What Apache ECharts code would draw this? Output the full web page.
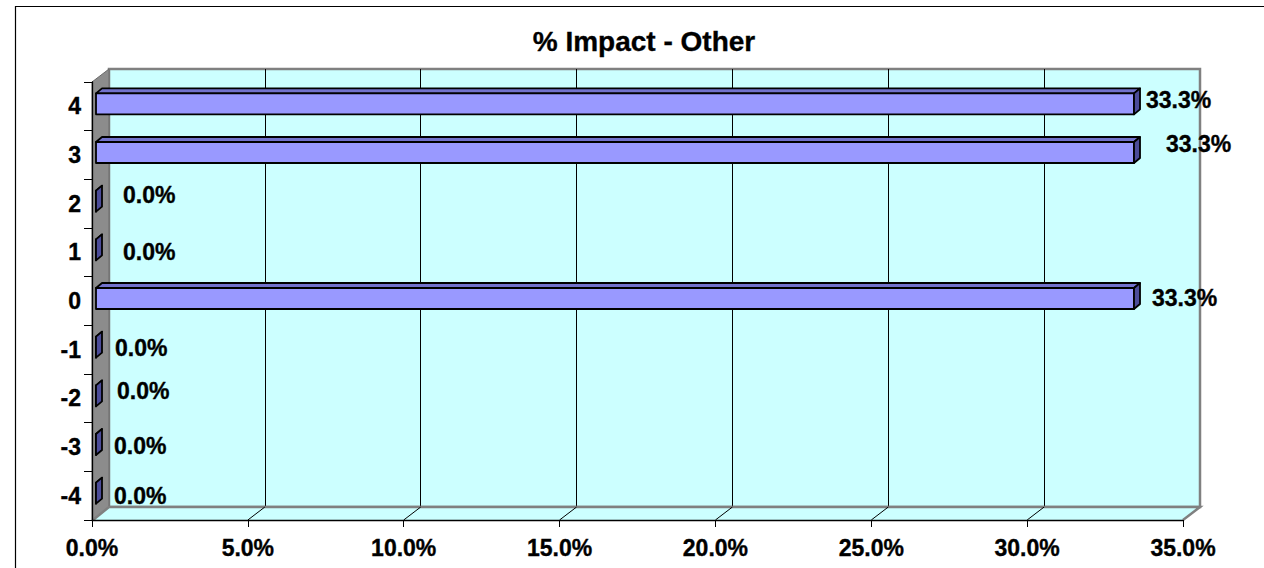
<!DOCTYPE html>
<html><head><meta charset="utf-8">
<script src="https://cdn.jsdelivr.net/npm/echarts@6/dist/echarts.min.js"></script>
<style>html,body{margin:0;padding:0;background:#fff}#c{width:1264px;height:568px}</style>
</head><body><div id="c"></div>
<script>
// ---- data ----
const titleText = '% Impact - Other';
const categories = ['-4', '-3', '-2', '-1', '0', '1', '2', '3', '4'];
const values = [0.0, 0.0, 0.0, 0.0, 33.3, 0.0, 0.0, 33.3, 33.3];
const xTicks = [0, 5, 10, 15, 20, 25, 30, 35];

// ---- styling / placement (not data) ----
const FONT = '"Liberation Sans", Arial, sans-serif';
const LBL = 23;
const labelOffsets = [[12, 0], [12, -1], [15, -7], [13, -2], [12, -3], [21, 0], [21, -9], [26, -11], [6, -6]];
const FRONT = '#9999FF', TOPC = '#7272CC', SIDE = '#4C4C99';
const front = { left: 92, top: 82, right: 81, bottom: 48 };
const back = { left: 109, top: 69, right: 64, bottom: 61 };
const W = 1264, H = 568;
const thick = { textBorderColor: '#000', textBorderWidth: 0.35 };

const chart = echarts.init(document.getElementById('c'), null, { renderer: 'svg' });

function renderItem(params, api) {
  const v = api.value(0), i = api.value(1);
  const p0 = api.coord([0, i]), p1 = api.coord([v, i]);
  const c = p0[1];
  const sx = 4, dd = 6, dy = 5;
  const x0 = p0[0] + sx, x1 = p1[0] + sx;
  const t = c - 13, b = c + 8;
  const off = labelOffsets[i];
  const st = (f) => ({ fill: f, stroke: '#000', lineWidth: 1.8, lineJoin: 'round' });
  return {
    type: 'group', children: [
      { type: 'polygon', shape: { points: [[x0, t], [x1, t], [x1 + dd, t - dy], [x0 + dd, t - dy]] }, style: st(TOPC) },
      { type: 'rect', shape: { x: x0, y: t, width: x1 - x0, height: b - t }, style: st(FRONT) },
      { type: 'polygon', shape: { points: [[x1, t], [x1 + dd, t - dy], [x1 + dd, b - dy], [x1, b]] }, style: st(SIDE) },
      { type: 'text', x: x1 + dd + off[0], y: c + off[1],
        style: { text: v.toFixed(1) + '%', fill: '#000', stroke: '#000', lineWidth: 0.35, fontSize: LBL, fontWeight: 'bold', fontFamily: FONT, align: 'left', verticalAlign: 'middle' } }
    ]
  };
}

const option = {
  animation: false,
  backgroundColor: '#fff',
  title: {
    text: titleText, left: 639, top: 22, textAlign: 'center',
    textStyle: Object.assign({ fontFamily: FONT, fontWeight: 'bold', fontSize: 28, color: '#000' }, thick)
  },
  grid: [
    Object.assign({ show: false, z: 5 }, front),
    Object.assign({ show: true, backgroundColor: '#CCFFFF', borderColor: '#808080', borderWidth: 2.5, z: 0 }, back)
  ],
  xAxis: [
    {
      type: 'value', gridIndex: 0, min: xTicks[0], max: xTicks[xTicks.length - 1], interval: xTicks[1] - xTicks[0], z: 5,
      axisLine: { show: true, lineStyle: { color: '#000', width: 1.3 } },
      axisTick: { show: true, length: 7, lineStyle: { color: '#000' } },
      splitLine: { show: false },
      axisLabel: Object.assign({ formatter: v => v.toFixed(1) + '%', fontFamily: FONT, fontWeight: 'bold', fontSize: LBL, color: '#000', margin: 16 }, thick)
    },
    {
      type: 'value', gridIndex: 1, min: xTicks[0], max: xTicks[xTicks.length - 1], interval: xTicks[1] - xTicks[0], z: 1,
      axisLine: { show: false }, axisTick: { show: false }, axisLabel: { show: false },
      splitLine: { show: true, showMinLine: false, showMaxLine: false, lineStyle: { color: '#000', width: 1 } }
    }
  ],
  yAxis: [
    {
      type: 'category', gridIndex: 0, data: categories, z: 5,
      axisLine: { show: true, lineStyle: { color: '#000', width: 1.3 } },
      axisTick: { show: true, length: 8, lineStyle: { color: '#000' } },
      axisLabel: Object.assign({ fontFamily: FONT, fontWeight: 'bold', fontSize: LBL, color: '#000', margin: 11 }, thick),
      splitLine: { show: false }
    },
    {
      type: 'category', gridIndex: 1, data: categories, show: false
    }
  ],
  series: [{
    type: 'custom', xAxisIndex: 0, yAxisIndex: 0, z: 10,
    renderItem: renderItem,
    data: values.map((v, i) => [v, i]),
    encode: { x: 0, y: 1 }
  }]
};
chart.setOption(option);

// walls, floor and floor grid lines derived from the axis scales
const fx0 = chart.convertToPixel({ xAxisIndex: 0 }, xTicks[0]);
const fx1 = chart.convertToPixel({ xAxisIndex: 0 }, xTicks[xTicks.length - 1]);
const bx0 = chart.convertToPixel({ xAxisIndex: 1 }, xTicks[0]);
const bx1 = chart.convertToPixel({ xAxisIndex: 1 }, xTicks[xTicks.length - 1]);
const fTop = front.top, fBot = H - front.bottom, bTop = back.top, bBot = H - back.bottom;
const els = [
  { type: 'rect', z: 0, shape: { x: 15.5, y: 6.5, width: 1400, height: 800 }, style: { fill: 'none', stroke: '#000', lineWidth: 1.2 } },
  { type: 'polygon', z: 2, shape: { points: [[fx0, fTop], [bx0, bTop], [bx0, bBot], [fx0, fBot]] }, style: { fill: '#8C8C8C', stroke: '#6a6a6a', lineWidth: 1 } },
  { type: 'polygon', z: 2, shape: { points: [[fx0, fBot], [bx0, bBot], [bx1, bBot], [fx1, fBot]] }, style: { fill: '#CCFFFF', stroke: 'none' } },
  { type: 'polyline', z: 3, shape: { points: [[fx0 + 1, fBot], [bx0, bBot], [bx1, bBot], [fx1, fBot]] }, style: { fill: 'none', stroke: '#808080', lineWidth: 2.5 } }
];
xTicks.slice(1, -1).forEach(t => {
  const a = chart.convertToPixel({ xAxisIndex: 0 }, t);
  const b = chart.convertToPixel({ xAxisIndex: 1 }, t);
  els.push({ type: 'line', z: 3, shape: { x1: a, y1: fBot, x2: b, y2: bBot }, style: { stroke: '#000', lineWidth: 1 } });
});
chart.setOption({ graphic: { elements: els } });
</script>
</body></html>
